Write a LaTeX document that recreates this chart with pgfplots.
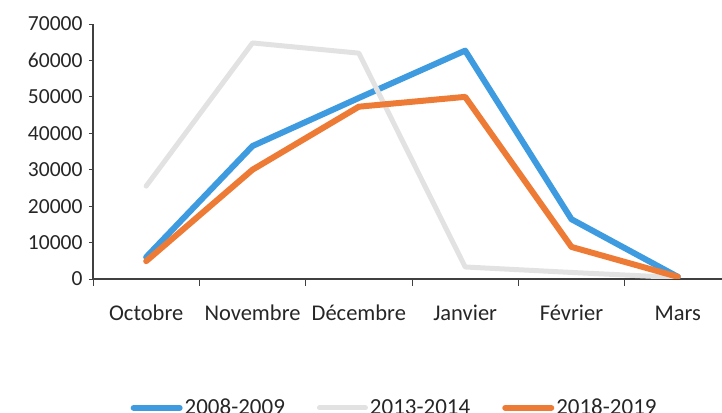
\documentclass[border=0pt]{standalone}
\usepackage{pgfplots}
\pgfplotsset{compat=1.18}
\usepackage{fontspec}
\setmainfont{Carlito}
\definecolor{cblue}{HTML}{3F9BDF}
\definecolor{cgray}{HTML}{E2E2E2}
\definecolor{corange}{HTML}{EE7B35}
\definecolor{caxis}{HTML}{404040}
\begin{document}
\begin{tikzpicture}
\path[use as bounding box] (0,0) rectangle (722pt,412pt);
\begin{axis}[
  at={(93pt,133pt)}, anchor=south west,
  scale only axis, width=638pt, height=255pt,
  xmin=-0.5, xmax=5.5, ymin=0, ymax=70000,
  axis lines*=left,
  axis line style={caxis, line width=1.3pt},
  xtick={0,1,2,3,4,5},
  xticklabels={Octobre,Novembre,Décembre,Janvier,Février,Mars},
  major x tick style={draw=none},
  minor xtick={-0.5,0.5,1.5,2.5,3.5,4.5,5.5},
  minor x tick style={caxis, line width=1pt},
  minor tick length=7pt,
  xtick align=outside,
  ytick={0,10000,...,70000},
  ytick align=outside,
  major y tick style={caxis, line width=0.8pt},
  major tick length=4pt,
  scaled y ticks=false,
  /pgf/number format/fixed,
  /pgf/number format/1000 sep={},
  /pgf/number format/assume math mode=true,
  tick label style={font=\fontsize{21.5}{24}\selectfont, text=black!85},
  xticklabel style={anchor=base, yshift=-37pt, font=\fontsize{22.5}{25}\selectfont},
  yticklabel style={xshift=-3pt},
  legend style={at={(0.054,-0.455)}, anchor=north west, draw=none, fill=none,
    font=\fontsize{23}{26}\selectfont, text=black!85,
    /tikz/every even column/.append style={column sep=30pt}},
  legend columns=3,
  legend image code/.code={\draw[#1] (0pt,0pt) -- (46pt,0pt);},
  every axis plot/.append style={line join=round, line cap=round},
]
\addplot[cblue, line width=6pt] coordinates {(0,6000) (1,36500) (2,49700) (3,62700) (4,16400) (5,600)};
\addlegendentry{2008-2009}
\addplot[cgray, line width=5pt] coordinates {(0,25500) (1,64800) (2,62000) (3,3300) (4,1800) (5,400)};
\addlegendentry{2013-2014}
\addplot[corange, line width=6pt] coordinates {(0,4900) (1,30000) (2,47300) (3,50000) (4,8800) (5,600)};
\addlegendentry{2018-2019}
\end{axis}
\end{tikzpicture}
\end{document}
